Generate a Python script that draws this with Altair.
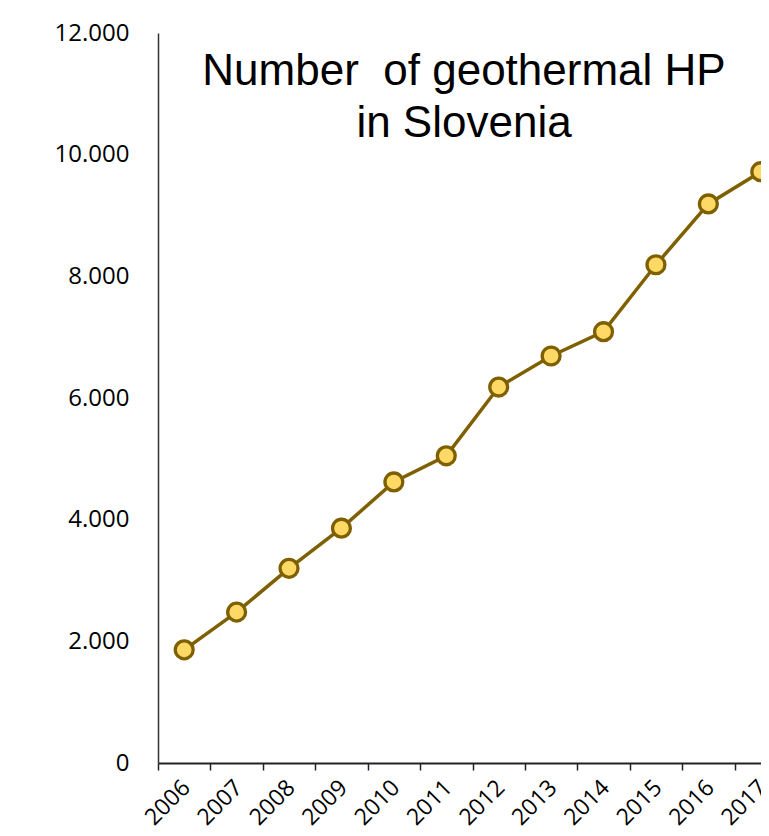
import altair as alt
import pandas as pd

years = ["2006", "2007", "2008", "2009", "2010", "2011",
         "2012", "2013", "2014", "2015", "2016", "2017"]
heat_pumps = [1860, 2480, 3200, 3860, 4620, 5050,
              6180, 6690, 7090, 8190, 9190, 9720]
y_ticks = [0, 2000, 4000, 6000, 8000, 10000, 12000]
title_lines = ["Number\u00a0 of geothermal HP", "in Slovenia"]

df = pd.DataFrame({"year": years, "hp": heat_pumps})

DARK = "#7F6000"
FILL = "#FFD966"

x = alt.X(
    "year:O",
    sort=years,
    scale=alt.Scale(type="band", paddingInner=0, paddingOuter=0, range=[0, 629]),
    axis=alt.Axis(
        title=None,
        labelAngle=-45,
        tickBand="extent",
        labelFont="Open Sans",
        labelFontSize=23,
        labelColor="black",
        tickSize=7,
        tickColor="#222222",
        tickWidth=1.5,
        domainColor="#222222",
        domainWidth=2,
        labelPadding=6,
        labelOffset=-6,
        grid=False,
    ),
)
y = alt.Y(
    "hp:Q",
    scale=alt.Scale(domain=[0, 12000], nice=False),
    axis=alt.Axis(
        title=None,
        values=y_ticks,
        labelExpr="replace(format(datum.value, ','), ',', '.')",
        ticks=False,
        grid=False,
        labelFont="Open Sans",
        labelFontSize=24,
        labelColor="black",
        labelPadding=29,
        domainColor="#333333",
        domainWidth=1.5,
    ),
)

line = alt.Chart(df).mark_line(color=DARK, strokeWidth=3.5).encode(x=x, y=y)
points = alt.Chart(df).mark_point(
    shape="circle", filled=True, fill=FILL, stroke=DARK,
    strokeWidth=3.3, size=320, opacity=1
).encode(x=x, y=y)

title = alt.Chart(pd.DataFrame({"t": [0]})).mark_text(
    text=title_lines,
    font="Liberation Sans",
    fontSize=44,
    color="black",
    align="center",
    baseline="alphabetic",
    lineHeight=52,
).encode(x=alt.value(306), y=alt.value(52))

chart = alt.layer(line, points, title).properties(
    width=603,
    height=730,
    autosize=alt.AutoSizeParams(type="none"),
    padding={"left": 150, "top": 25, "right": 0, "bottom": 78},
).configure_view(stroke=None)

chart.save("out.html", embed_options={"renderer": "svg", "actions": False})
